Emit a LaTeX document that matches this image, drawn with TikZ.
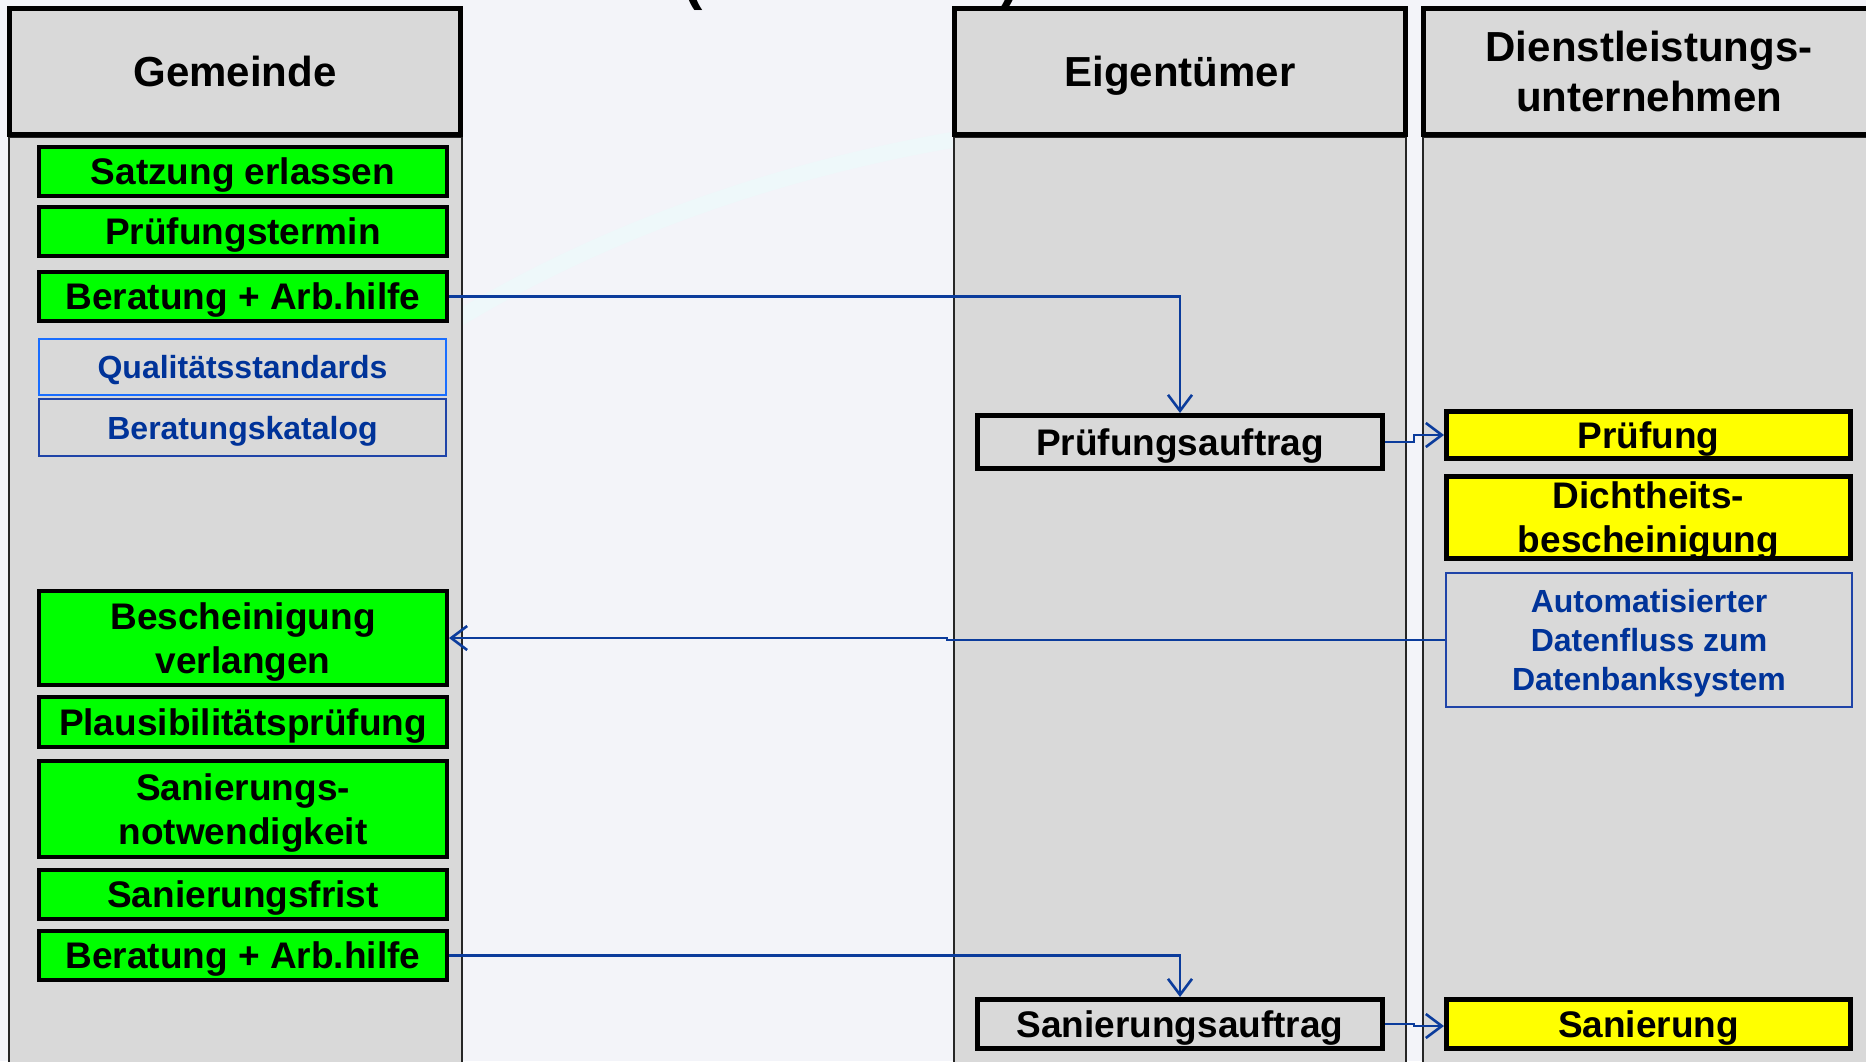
\documentclass[tikz,border=0pt]{standalone}
\usepackage{fontspec}
\setmainfont{Liberation Sans}
\usetikzlibrary{arrows.meta}
\definecolor{bg}{HTML}{F3F4F9}
\definecolor{swoosh}{HTML}{EEF8FA}
\definecolor{lane}{HTML}{D9D9D9}
\definecolor{gr}{HTML}{00FF00}
\definecolor{ye}{HTML}{FFFF00}
\definecolor{conncol}{HTML}{0B3C9C}
\definecolor{bltxt}{HTML}{003399}
\definecolor{lbl}{HTML}{1A6EFF}
\definecolor{dbl}{HTML}{1F44A8}
\tikzset{
  hdr/.style={draw=black, line width=5pt, fill=lane, inner sep=0pt, align=center, text depth=-8pt,
    minimum width=451pt, minimum height=126pt, font=\fontsize{42}{50}\selectfont\bfseries},
  lanebody/.style={draw=black!85, line width=2pt, fill=lane},
  gbox/.style={draw=black, line width=4pt, fill=gr, inner sep=0pt, align=center, text depth=0pt,
    minimum width=408pt, font=\fontsize{37}{44}\selectfont\bfseries},
  bbox/.style={line width=2.5pt, fill=lane, inner sep=0pt, align=center, text=bltxt, text depth=0pt,
    minimum width=407pt, font=\fontsize{32}{38.7}\selectfont\bfseries},
  ebox/.style={draw=black, line width=5pt, fill=lane, inner sep=0pt, align=center, text depth=0pt,
    minimum width=405pt, font=\fontsize{37}{44}\selectfont\bfseries},
  ybox/.style={draw=black, line width=5pt, fill=ye, inner sep=0pt, align=center, text depth=0pt,
    minimum width=404pt, font=\fontsize{37}{44}\selectfont\bfseries},
  conn/.style={draw=conncol, line width=2.6pt, -{Straight Barb[length=16pt,width=24pt,line width=2.6pt]}},
  paren/.style={inner sep=0pt, anchor=south, font=\fontsize{58}{60}\selectfont\bfseries}
}
\begin{document}
\begin{tikzpicture}[x=1pt,y=-1pt]
\useasboundingbox (0,0) rectangle (1866,1061);
\fill[bg] (0,0) rectangle (1866,1061);
\draw[swoosh, line width=16pt] (440,330) .. controls (600,230) and (780,170) .. (952,140);

% title fragments (cut off at the top edge, as in the reference)
\node[paren] (lp) at (693,11) {(};
\node[paren] (rp) at (1010,9) {)};

% lanes
\draw[lanebody] (9,137) rectangle (462,1080);
\draw[lanebody] (954,137) rectangle (1406,1080);
\draw[lanebody] (1423,137) rectangle (1880,1080);

\node[hdr] (h1) at (235,71.5) {Gemeinde};
\node[hdr] (h2) at (1180,71.5) {Eigentümer};
\node[hdr] (h3) at (1649,71.5) {Dienstleistungs-\\unternehmen};

% Gemeinde
\node[gbox, minimum height=49pt] (satz) at (243,171.5) {Satzung erlassen};
\node[gbox, minimum height=49pt] (ptermin) at (243,231.5) {Prüfungstermin};
\node[gbox, minimum height=49pt] (ber1) at (243,296.5) {Beratung + Arb.hilfe};
\node[bbox, draw=lbl, minimum height=56pt] (qual) at (242.5,367) {Qualitätsstandards};
\node[bbox, draw=dbl, minimum height=57pt] (katalog) at (242.5,427.5) {Beratungskatalog};
\node[gbox, minimum height=94pt] (besch) at (243,638) {Bescheinigung\\verlangen};
\node[gbox, minimum height=50pt] (plaus) at (243,722) {Plausibilitätsprüfung};
\node[gbox, minimum height=96pt] (notw) at (243,809) {Sanierungs-\\notwendigkeit};
\node[gbox, minimum height=49pt] (frist) at (243,894.5) {Sanierungsfrist};
\node[gbox, minimum height=49pt] (ber2) at (243,955.5) {Beratung + Arb.hilfe};

% Eigentuemer
\node[ebox, minimum height=53pt] (pa) at (1180,442) {Prüfungsauftrag};
\node[ebox, minimum height=49pt] (sa) at (1180,1024) {Sanierungsauftrag};

% Dienstleistungsunternehmen
\node[ybox, minimum height=47pt] (pruef) at (1648.5,435) {Prüfung};
\node[ybox, minimum height=82pt] (dicht) at (1648.5,517.5) {Dichtheits-\\bescheinigung};
\node[bbox, draw=dbl, minimum width=406pt, minimum height=134pt] (auto) at (1649,640) {Automatisierter\\Datenfluss zum\\Datenbanksystem};
\node[ybox, minimum height=49pt] (san) at (1648.5,1024) {Sanierung};

% connectors
\coordinate (j3) at (947,640);
\draw[conn] (ber1.east) -| (pa.north);
\draw[conn] (pa.east) -- ++(29,0) |- (pruef.west);
\draw[conn] (auto.west) -- (j3) |- (besch.east);
\draw[conn] (ber2.east) -| (sa.north);
\draw[conn] (sa.east) -- ++(29,0) |- ([yshift=-2pt]san.west);
\end{tikzpicture}
\end{document}
